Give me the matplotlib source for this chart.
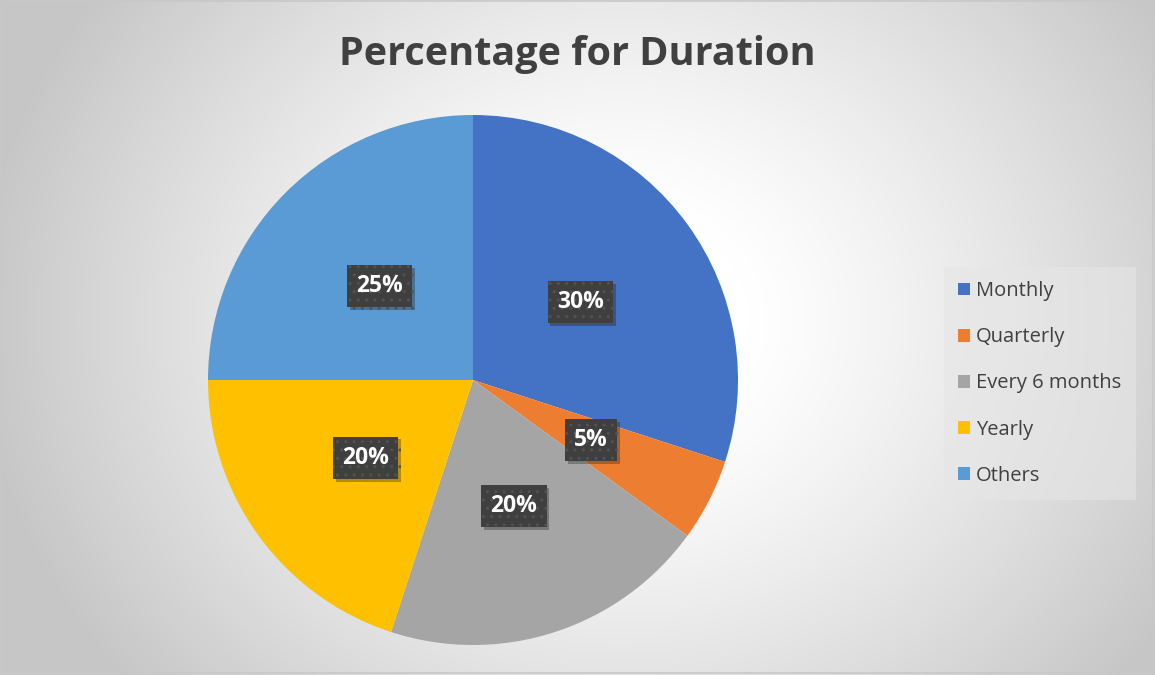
import numpy as np
import matplotlib
matplotlib.use("Agg")
import matplotlib.pyplot as plt
from matplotlib import patheffects as pe
from matplotlib.patches import Patch, Rectangle

labels = ["Monthly", "Quarterly", "Every 6 months", "Yearly", "Others"]
values = [30, 5, 20, 20, 25]
colors = ["#4472C4", "#ED7D31", "#A5A5A5", "#FFC000", "#5B9BD5"]

W, H = 1155, 675
fig = plt.figure(figsize=(W / 100, H / 100), dpi=100)
plt.rcParams["font.family"] = ["Open Sans", "DejaVu Sans"]

# radial background
bg = fig.add_axes([0, 0, 1, 1]); bg.axis("off")
yy, xx = np.mgrid[0:H, 0:W]
d = np.sqrt(((xx - 620) / 640.0) ** 2 + ((yy - 320) / 560.0) ** 2)
g = np.clip(1.0 - 0.22 * np.clip((d - 0.2) / 0.8, 0, 1) ** 1.2, 0, 1)
bg.imshow(np.dstack([g, g, g]), extent=(0, W, H, 0), aspect="auto")
bg.add_patch(Rectangle((1, 1), W - 3, H - 3, fill=False, ec="#c8c8c8", lw=1.2))
bg.set_xlim(0, W); bg.set_ylim(H, 0)

cx, cy, r = 473, 380, 265
ax = fig.add_axes([(cx - r) / W, (H - cy - r) / H, 2 * r / W, 2 * r / H])
wedges, _, autotexts = ax.pie(values, colors=colors, startangle=90, counterclock=False,
                              autopct="%1.0f%%", pctdistance=0.5, radius=1,
                              wedgeprops=dict(lw=0))
ax.set_xlim(-1, 1); ax.set_ylim(-1, 1); ax.set_aspect("equal"); ax.axis("off")
for t in autotexts:
    t.set_color("white"); t.set_fontsize(16.5); t.set_fontweight("bold")
    t.set_bbox(dict(boxstyle="square,pad=0.4", fc="#3f3f3f", ec="#525252", lw=0, hatch=".."))
    t.get_bbox_patch().set_path_effects([pe.withSimplePatchShadow(offset=(2, -2), alpha=0.3),
                                         pe.Normal()])

fig.text(0.5, 1 - 54 / H, "Percentage for Duration", ha="center", va="center",
         fontsize=28.5, fontweight="bold", color="#404040")

handles = [Patch(fc=c, ec="none") for c in colors]
leg = fig.legend(handles, labels, loc="upper left", bbox_to_anchor=(944 / W, 1 - 267 / H),
                 fontsize=14.5, frameon=True, fancybox=False, handlelength=0.6, handleheight=0.6,
                 handletextpad=0.3, labelspacing=1.3, borderpad=0.7, borderaxespad=0)
leg.get_frame().set_facecolor("#e6e6e6"); leg.get_frame().set_alpha(0.6)
leg.get_frame().set_edgecolor("none")
for t in leg.get_texts():
    t.set_color("#404040")

fig.savefig("out.png", dpi=100)
